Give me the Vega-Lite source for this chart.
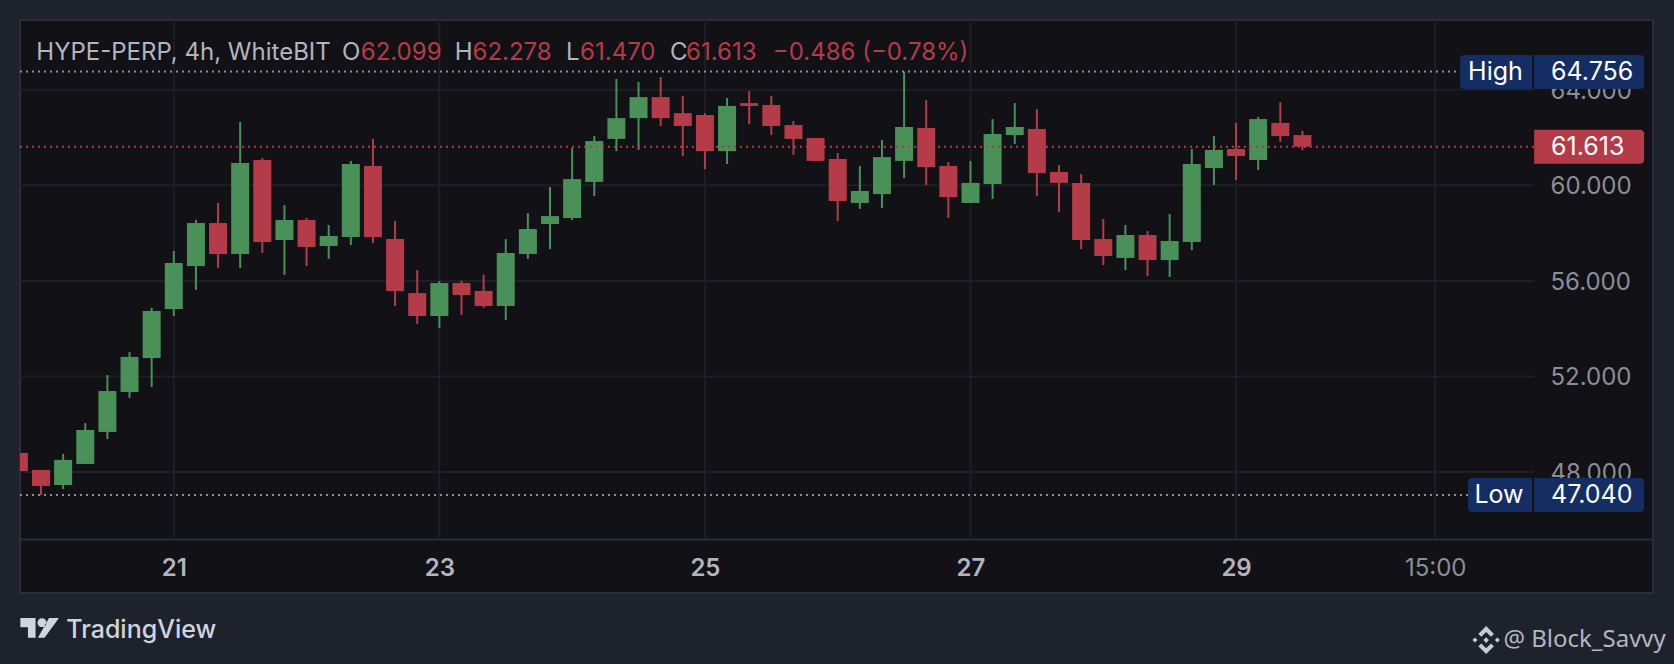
{
  "$schema": "https://vega.github.io/schema/vega-lite/v6.json",
  "width": 1633,
  "height": 573,
  "autosize": "none",
  "padding": {"left": 20, "top": 20, "right": 21, "bottom": 71},
  "background": "#1e222d",
  "view": {"fill": "#111116", "stroke": "#2a2e39", "strokeWidth": 2},
  "config": {"font": "Inter"},
  "datasets": {
    "candles": [
      {"bar": 0, "open": 48.80, "high": 48.80, "low": 48.04, "close": 48.04},
      {"bar": 1, "open": 48.09, "high": 48.09, "low": 47.04, "close": 47.42},
      {"bar": 2, "open": 47.46, "high": 48.76, "low": 47.29, "close": 48.51},
      {"bar": 3, "open": 48.34, "high": 50.05, "low": 48.34, "close": 49.76},
      {"bar": 4, "open": 49.68, "high": 52.06, "low": 49.38, "close": 51.39},
      {"bar": 5, "open": 51.35, "high": 53.02, "low": 51.10, "close": 52.82},
      {"bar": 6, "open": 52.77, "high": 54.87, "low": 51.56, "close": 54.74},
      {"bar": 7, "open": 54.82, "high": 57.25, "low": 54.53, "close": 56.75},
      {"bar": 8, "open": 56.62, "high": 58.55, "low": 55.62, "close": 58.42},
      {"bar": 9, "open": 58.42, "high": 59.26, "low": 56.54, "close": 57.12},
      {"bar": 10, "open": 57.12, "high": 62.65, "low": 56.54, "close": 60.93},
      {"bar": 11, "open": 61.06, "high": 61.14, "low": 57.17, "close": 57.63},
      {"bar": 12, "open": 57.71, "high": 59.17, "low": 56.25, "close": 58.55},
      {"bar": 13, "open": 58.55, "high": 58.63, "low": 56.62, "close": 57.42},
      {"bar": 14, "open": 57.46, "high": 58.34, "low": 56.92, "close": 57.88},
      {"bar": 15, "open": 57.84, "high": 61.02, "low": 57.50, "close": 60.89},
      {"bar": 16, "open": 60.81, "high": 61.94, "low": 57.58, "close": 57.84},
      {"bar": 17, "open": 57.75, "high": 58.51, "low": 54.95, "close": 55.58},
      {"bar": 18, "open": 55.49, "high": 56.45, "low": 54.20, "close": 54.53},
      {"bar": 19, "open": 54.53, "high": 56.00, "low": 54.03, "close": 55.91},
      {"bar": 20, "open": 55.91, "high": 56.00, "low": 54.57, "close": 55.41},
      {"bar": 21, "open": 55.58, "high": 56.25, "low": 54.87, "close": 54.95},
      {"bar": 22, "open": 54.95, "high": 57.75, "low": 54.36, "close": 57.17},
      {"bar": 23, "open": 57.12, "high": 58.84, "low": 56.92, "close": 58.17},
      {"bar": 24, "open": 58.38, "high": 59.93, "low": 57.33, "close": 58.71},
      {"bar": 25, "open": 58.63, "high": 61.56, "low": 58.55, "close": 60.26},
      {"bar": 26, "open": 60.14, "high": 62.06, "low": 59.55, "close": 61.85},
      {"bar": 27, "open": 61.94, "high": 64.45, "low": 61.43, "close": 62.81},
      {"bar": 28, "open": 62.81, "high": 64.32, "low": 61.48, "close": 63.69},
      {"bar": 29, "open": 63.69, "high": 64.53, "low": 62.48, "close": 62.81},
      {"bar": 30, "open": 63.02, "high": 63.74, "low": 61.22, "close": 62.48},
      {"bar": 31, "open": 62.94, "high": 63.02, "low": 60.68, "close": 61.43},
      {"bar": 32, "open": 61.43, "high": 63.65, "low": 60.89, "close": 63.32},
      {"bar": 33, "open": 63.44, "high": 63.94, "low": 62.56, "close": 63.32},
      {"bar": 34, "open": 63.36, "high": 63.74, "low": 62.10, "close": 62.48},
      {"bar": 35, "open": 62.52, "high": 62.69, "low": 61.27, "close": 61.94},
      {"bar": 36, "open": 61.98, "high": 61.98, "low": 61.02, "close": 61.02},
      {"bar": 37, "open": 61.10, "high": 61.35, "low": 58.51, "close": 59.34},
      {"bar": 38, "open": 59.26, "high": 60.81, "low": 59.01, "close": 59.76},
      {"bar": 39, "open": 59.63, "high": 61.89, "low": 59.05, "close": 61.18},
      {"bar": 40, "open": 61.02, "high": 64.756, "low": 60.30, "close": 62.44},
      {"bar": 41, "open": 62.40, "high": 63.57, "low": 60.01, "close": 60.76},
      {"bar": 42, "open": 60.81, "high": 60.97, "low": 58.63, "close": 59.51},
      {"bar": 43, "open": 59.26, "high": 61.02, "low": 59.26, "close": 60.10},
      {"bar": 44, "open": 60.05, "high": 62.77, "low": 59.43, "close": 62.15},
      {"bar": 45, "open": 62.10, "high": 63.44, "low": 61.73, "close": 62.44},
      {"bar": 46, "open": 62.35, "high": 63.19, "low": 59.55, "close": 60.51},
      {"bar": 47, "open": 60.56, "high": 60.85, "low": 58.88, "close": 60.10},
      {"bar": 48, "open": 60.10, "high": 60.47, "low": 57.33, "close": 57.71},
      {"bar": 49, "open": 57.75, "high": 58.59, "low": 56.66, "close": 57.04},
      {"bar": 50, "open": 56.96, "high": 58.34, "low": 56.45, "close": 57.92},
      {"bar": 51, "open": 57.92, "high": 58.09, "low": 56.20, "close": 56.87},
      {"bar": 52, "open": 56.87, "high": 58.80, "low": 56.16, "close": 57.67},
      {"bar": 53, "open": 57.63, "high": 61.52, "low": 57.29, "close": 60.89},
      {"bar": 54, "open": 60.72, "high": 62.06, "low": 60.01, "close": 61.48},
      {"bar": 55, "open": 61.52, "high": 62.61, "low": 60.22, "close": 61.22},
      {"bar": 56, "open": 61.06, "high": 62.86, "low": 60.64, "close": 62.77},
      {"bar": 57, "open": 62.61, "high": 63.48, "low": 61.81, "close": 62.06},
      {"bar": 58, "open": 62.099, "high": 62.278, "low": 61.47, "close": 61.613}
    ],
    "gridH": [
      {"bar": 0.051, "end": 68.47, "price": 48},
      {"bar": 0.051, "end": 68.47, "price": 52},
      {"bar": 0.051, "end": 68.47, "price": 56},
      {"bar": 0.051, "end": 68.47, "price": 60},
      {"bar": 0.051, "end": 68.47, "price": 64}
    ],
    "gridV": [
      {"bar": 7, "price": 45.2, "top": 66.916},
      {"bar": 19, "price": 45.2, "top": 66.916},
      {"bar": 31, "price": 45.2, "top": 66.916},
      {"bar": 43, "price": 45.2, "top": 66.916},
      {"bar": 55, "price": 45.2, "top": 66.916},
      {"bar": 64, "price": 45.2, "top": 66.916}
    ],
    "extremes": [
      {"bar": 0.051, "end": 65.12, "price": 64.756},
      {"bar": 0.051, "end": 65.48, "price": 47.04}
    ],
    "lastClose": [{"bar": 0.051, "end": 68.47, "price": 61.613}],
    "nameTags": [
      {"bar": 65.12, "end": 68.38, "price": 65.45, "bottom": 64.03, "label": "High", "mid": 66.72, "value": 64.74},
      {"bar": 65.48, "end": 68.38, "price": 47.75, "bottom": 46.33, "label": "Low", "mid": 66.88, "value": 47.04}
    ],
    "valueTags": [
      {"bar": 68.47, "end": 73.44, "price": 65.45, "bottom": 64.03, "value": 64.756, "textBar": 69.23},
      {"bar": 68.47, "end": 73.44, "price": 47.75, "bottom": 46.33, "value": 47.04, "textBar": 69.23}
    ],
    "closeTag": [
      {"bar": 68.47, "end": 73.44, "price": 62.32, "bottom": 60.9, "value": 61.613, "textBar": 69.23}
    ],
    "headerGrey": [
      {"bar": 0.79, "price": 65.55, "label": "HYPE-PERP, 4h, WhiteBIT"},
      {"bar": 14.6, "price": 65.55, "label": "O"},
      {"bar": 19.7, "price": 65.55, "label": "H"},
      {"bar": 24.72, "price": 65.55, "label": "L"},
      {"bar": 29.42, "price": 65.55, "label": "C"}
    ],
    "headerRed": [
      {"bar": 15.45, "price": 65.55, "label": "62.099"},
      {"bar": 20.5, "price": 65.55, "label": "62.278"},
      {"bar": 25.36, "price": 65.55, "label": "61.470"},
      {"bar": 30.15, "price": 65.55, "label": "61.613"},
      {"bar": 34.07, "price": 65.55, "label": "−0.486 (−0.78%)"}
    ]
  },
  "data": {"name": "candles"},
  "encoding": {
    "x": {
      "field": "bar",
      "type": "quantitative",
      "title": null,
      "scale": {"domain": [0.051, 73.84], "nice": false, "zero": false, "padding": 0},
      "axis": {
        "orient": "bottom",
        "offset": -54,
        "title": null,
        "grid": false,
        "ticks": false,
        "domainColor": "#2a2e39",
        "domainWidth": 2,
        "values": [7, 19, 31, 43, 55, 64],
        "labelExpr": "datum.value == 64 ? '15:00' : '' + (21 + (datum.value - 7) / 6)",
        "labelFontSize": 24,
        "labelFontWeight": {"condition": {"test": "datum.value == 64", "value": "normal"}, "value": 600},
        "labelColor": {"condition": {"test": "datum.value == 64", "value": "#8b8e97"}, "value": "#b2b5be"},
        "labelBaseline": "middle",
        "labelPadding": 29,
        "labelFlush": false,
        "labelOverlap": false,
        "labelBound": false
      }
    },
    "y": {
      "field": "price",
      "type": "quantitative",
      "title": null,
      "scale": {"domain": [42.94, 66.916], "nice": false, "zero": false},
      "axis": {
        "orient": "right",
        "offset": -119,
        "title": null,
        "grid": false,
        "ticks": false,
        "domain": false,
        "values": [48, 52, 56, 60, 64],
        "format": ".3f",
        "labelFontSize": 24,
        "labelColor": "#8b8e97",
        "labelPadding": 16,
        "labelOffset": 1.5,
        "labelOverlap": false,
        "labelBound": false
      }
    }
  },
  "layer": [
    {
      "data": {"name": "gridH"},
      "mark": {"type": "rule", "color": "#1e1f25", "strokeWidth": 2},
      "encoding": {"x2": {"field": "end"}}
    },
    {
      "data": {"name": "gridV"},
      "mark": {"type": "rule", "color": "#1e1f25", "strokeWidth": 2},
      "encoding": {"y2": {"field": "top"}}
    },
    {
      "mark": {"type": "rule", "strokeWidth": 2, "clip": true},
      "encoding": {
        "y": {"field": "low", "type": "quantitative"},
        "y2": {"field": "high"},
        "color": {"condition": {"test": "datum.close >= datum.open", "value": "#4a9159"}, "value": "#b63b48"}
      }
    },
    {
      "mark": {"type": "bar", "width": 18, "clip": true},
      "encoding": {
        "y": {"field": "open", "type": "quantitative"},
        "y2": {"field": "close"},
        "color": {"condition": {"test": "datum.close >= datum.open", "value": "#4a9159"}, "value": "#b63b48"}
      }
    },
    {
      "data": {"name": "extremes"},
      "mark": {"type": "rule", "color": "#8b8e97", "strokeWidth": 2, "strokeDash": [2, 4]},
      "encoding": {"x2": {"field": "end"}}
    },
    {
      "data": {"name": "lastClose"},
      "mark": {"type": "rule", "color": "#b63b48", "strokeWidth": 2, "strokeDash": [2, 4]},
      "encoding": {"x2": {"field": "end"}}
    },
    {
      "data": {"name": "nameTags"},
      "mark": {"type": "rect", "color": "#142e63", "cornerRadiusTopLeft": 4, "cornerRadiusBottomLeft": 4},
      "encoding": {"x2": {"field": "end"}, "y2": {"field": "bottom"}}
    },
    {
      "data": {"name": "valueTags"},
      "mark": {"type": "rect", "color": "#142e63", "cornerRadiusTopRight": 4, "cornerRadiusBottomRight": 4},
      "encoding": {"x2": {"field": "end"}, "y2": {"field": "bottom"}}
    },
    {
      "data": {"name": "closeTag"},
      "mark": {"type": "rect", "color": "#b63b48", "cornerRadiusTopRight": 4, "cornerRadiusBottomRight": 4},
      "encoding": {"x2": {"field": "end"}, "y2": {"field": "bottom"}}
    },
    {
      "data": {"name": "nameTags"},
      "mark": {"type": "text", "color": "#ffffff", "fontSize": 25, "align": "center", "baseline": "middle"},
      "encoding": {
        "x": {"field": "mid", "type": "quantitative"},
        "y": {"field": "value", "type": "quantitative"},
        "text": {"field": "label"}
      }
    },
    {
      "data": {"name": "valueTags"},
      "mark": {"type": "text", "color": "#ffffff", "fontSize": 25, "align": "left", "baseline": "middle"},
      "encoding": {
        "x": {"field": "textBar", "type": "quantitative"},
        "y": {"field": "value", "type": "quantitative"},
        "text": {"field": "value", "format": ".3f"}
      }
    },
    {
      "data": {"name": "closeTag"},
      "mark": {"type": "text", "color": "#ffffff", "fontSize": 25, "align": "left", "baseline": "middle"},
      "encoding": {
        "x": {"field": "textBar", "type": "quantitative"},
        "y": {"field": "value", "type": "quantitative"},
        "text": {"field": "value", "format": ".3f"}
      }
    },
    {
      "data": {"name": "headerGrey"},
      "mark": {"type": "text", "color": "#b2b5be", "fontSize": 24, "align": "left", "baseline": "middle"},
      "encoding": {"text": {"field": "label"}}
    },
    {
      "data": {"name": "headerRed"},
      "mark": {"type": "text", "color": "#b63b48", "fontSize": 24, "align": "left", "baseline": "middle"},
      "encoding": {"text": {"field": "label"}}
    },
    {
      "data": {"values": [{"bar": 2.14, "price": 41.39, "label": "TradingView"}]},
      "mark": {"type": "text", "color": "#d1d4dc", "fontSize": 25, "fontWeight": 500, "align": "left", "baseline": "middle"},
      "encoding": {"text": {"field": "label"}}
    },
    {
      "data": {"values": [{"bar": 0.93, "price": 41.48}]},
      "mark": {
        "type": "point",
        "filled": true,
        "opacity": 1,
        "color": "#d1d4dc",
        "size": 1521,
        "shape": "M-0.98 -0.51H-0.2V0.51H-0.59V-0.03H-0.98ZM0.49 -0.51H1L0.26 0.51H-0.08ZM-0.1 -0.27a0.23 0.23 0 1 0 0.46 0a0.23 0.23 0 1 0 -0.46 0Z"
      }
    },
    {
      "data": {"values": [{"bar": 66.3, "price": 40.97}]},
      "mark": {
        "type": "point",
        "filled": true,
        "opacity": 1,
        "color": "#c8cbd2",
        "size": 784,
        "shape": "M0 -0.2L0.2 0L0 0.2L-0.2 0ZM-0.8 -0.18L-0.62 0L-0.8 0.18L-0.98 0ZM0.8 -0.18L0.98 0L0.8 0.18L0.62 0ZM0 -1L0.56 -0.44L0.34 -0.24L0 -0.58L-0.34 -0.24L-0.56 -0.44ZM0 1L0.56 0.44L0.34 0.24L0 0.58L-0.34 0.24L-0.56 0.44Z"
      }
    },
    {
      "data": {"values": [{"bar": 67.08, "price": 40.97, "label": "@ Block_Savvy"}]},
      "mark": {"type": "text", "font": "Noto Sans", "color": "#b4b7be", "fontSize": 24, "align": "left", "baseline": "middle"},
      "encoding": {"text": {"field": "label"}}
    }
  ]
}
